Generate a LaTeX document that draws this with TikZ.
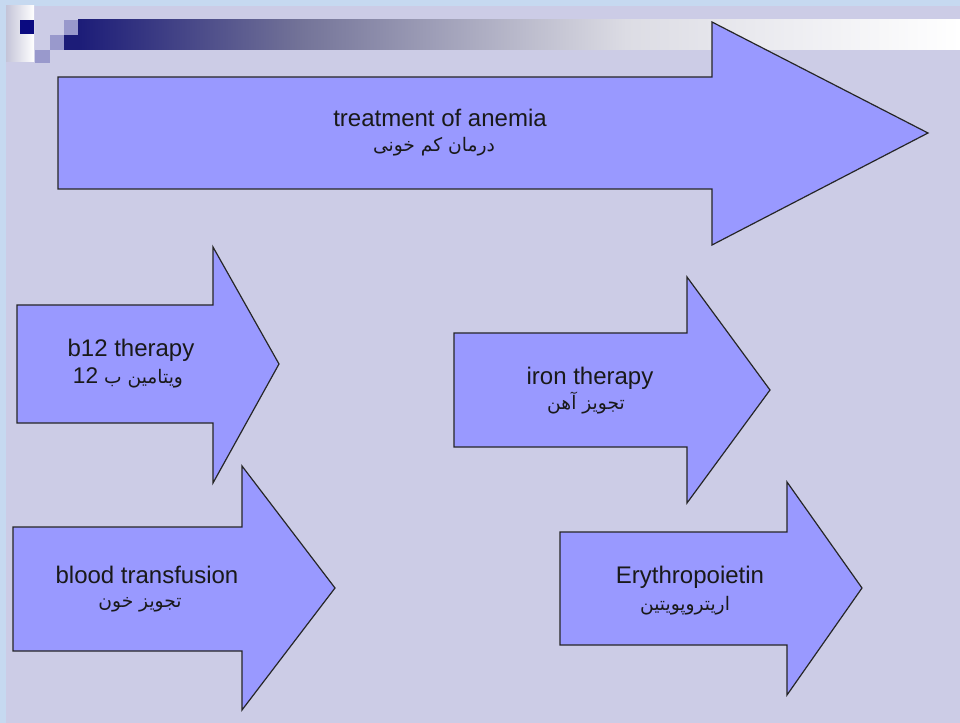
\documentclass[tikz,border=0pt]{standalone}
\usepackage{fontspec}
\setmainfont{Liberation Sans}
\newfontfamily\farsi[Script=Arabic]{DejaVu Sans}
\TeXXeTstate=1
\definecolor{pagebg}{HTML}{CCCCE6}
\definecolor{frameblue}{HTML}{C6D9F0}
\definecolor{arrowfill}{HTML}{9999FF}
\definecolor{navy}{HTML}{0A0A80}
\definecolor{barnavy}{HTML}{1C1C78}
\definecolor{barmid}{HTML}{737398}
\definecolor{barlight}{HTML}{DCDCE4}
\definecolor{tile}{HTML}{9999CC}
\definecolor{stripgray}{HTML}{C4C4D8}
\begin{document}
\begin{tikzpicture}[x=0.75pt,y=-0.75pt,
  arrowbody/.style={fill=arrowfill,draw=black!85,line width=0.9pt,line join=miter},
  entext/.style={inner sep=0pt,anchor=base,font=\fontsize{18}{21}\selectfont,text=black!90},
  fatext/.style={inner sep=0pt,anchor=base,font=\farsi\fontsize{14}{16}\selectfont,text=black!90}]
\newcommand\blockarrow[8]{%
  \draw[arrowbody] (#1,#2) -- (#4,#2) -- (#4,#5) -- (#7,#8) -- (#4,#6) -- (#4,#3) -- (#1,#3) -- cycle;}
\newcommand\latindigits[1]{{\rmfamily\fontsize{17}{20}\selectfont #1}}
% page and frame
\useasboundingbox (0,0) rectangle (960,723);
\fill[frameblue] (0,0) rectangle (960,723);
\fill[pagebg] (6,6) rectangle (960,723);
% title decoration
\shade[left color=stripgray,right color=white] (6,6) rectangle (34,62);
\fill[navy] (20,20) rectangle (34,34);
\fill[tile] (64,20) rectangle (78,35);
\fill[tile] (50,35) rectangle (64,50);
\fill[tile] (35,50) rectangle (50,63);
\fill[barnavy] (64,35) rectangle (78.5,50);
\shade[left color=barnavy,right color=barmid] (78,20) rectangle (300.5,50);
\shade[left color=barmid,right color=barlight] (300,20) rectangle (626.5,50);
\shade[left color=barlight,right color=white] (626,20) rectangle (960,50);
% block arrows
\blockarrow{58}{77}{189}{712}{22}{245}{928}{133}
\blockarrow{17}{305}{423}{213}{247}{483}{279}{364}
\blockarrow{454}{333}{447}{687}{277}{503}{770}{390}
\blockarrow{13}{527}{651}{242}{466}{710}{335}{588}
\blockarrow{560}{532}{645}{787}{482}{695}{862}{588}
% labels
\node[entext] (anemia) at (440,127) {treatment of anemia};
\node[fatext] (anemiafa) at (434,152) {\beginR درمان کم خونی\endR};
\node[entext] (btwelve) at (131,357) {b12 therapy};
\node[fatext] (btwelvefa) at (128,383) {\beginR ویتامین ب \beginL\latindigits{12}\endL\endR};
\node[entext] (iron) at (590,384) {iron therapy};
\node[fatext] (ironfa) at (586,410) {\beginR تجویز آهن\endR};
\node[entext] (blood) at (147,583) {blood transfusion};
\node[fatext] (bloodfa) at (140,607) {\beginR تجویز خون\endR};
\node[entext] (epo) at (690,583) {Erythropoietin};
\node[fatext] (epofa) at (685,610) {\beginR اریتروپویتین\endR};
\end{tikzpicture}
\end{document}
